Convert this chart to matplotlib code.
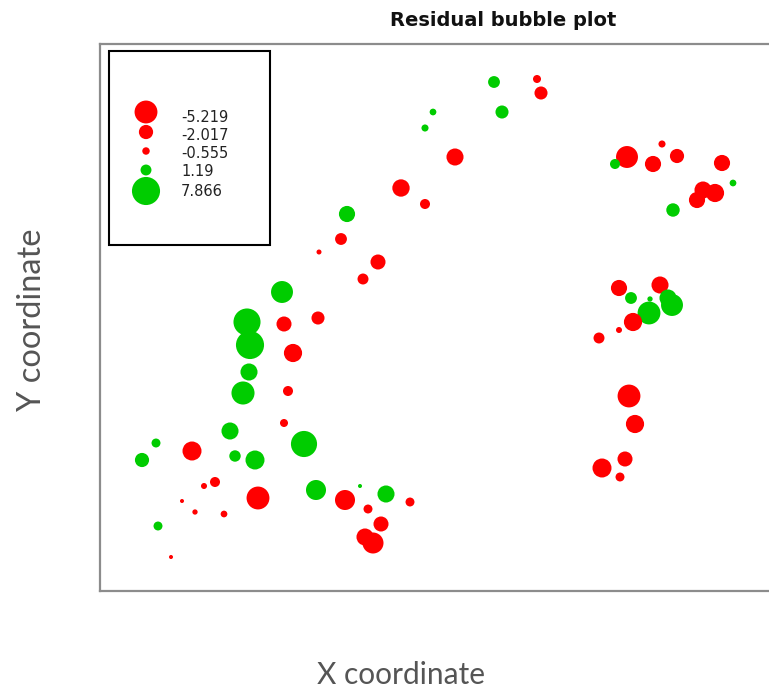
import numpy as np
import matplotlib
matplotlib.use("Agg")
import matplotlib.pyplot as plt
from matplotlib.patches import Rectangle

# bubble locations and residuals
x_coord = [282, 247, 284, 318, 250, 293, 249, 288, 243, 284, 230, 304, 156, 192,
           142, 235, 255, 215, 204, 258, 316, 345, 182, 195, 224, 158, 171, 360,
           386, 410, 368, 381, 365, 373, 494, 537, 541, 502, 433, 425, 455, 401,
           425, 347, 341, 378, 363, 319, 627, 615, 662, 653, 677, 722, 733, 703,
           715, 697, 673, 619, 660, 631, 650, 668, 672, 649, 633, 619, 599, 629,
           635, 625, 602, 620]
y_coord = [401, 371, 369, 375, 348, 340, 321, 302, 300, 270, 262, 249, 250, 242,
           233, 237, 233, 211, 207, 195, 203, 193, 192, 181, 179, 167, 136, 207,
           199, 191, 184, 169, 156, 150, 611, 614, 600, 581, 581, 565, 536, 505,
           489, 479, 454, 431, 414, 441, 536, 529, 549, 529, 537, 530, 510, 503,
           500, 493, 483, 405, 408, 395, 394, 395, 388, 380, 371, 363, 355, 297,
           269, 234, 225, 216]
residual = [4.8, 7.3, -2.25, -1.7, 7.866, -3.3, 2.9, -1.0, 5.3, -0.64, 2.9, 6.8,
            0.8, -3.6, 2.0, 1.3, 3.6, -1.0, -0.36, -5.219, 4.0, -4.0, -0.16,
            -0.28, -0.45, 0.8, -0.16, 0.16, 2.9, -0.8, -0.8, -2.25, -2.9, -4.4,
            1.4, -0.64, -1.7, 1.7, 0.45, 0.5, -2.9, -3.0, -1.0, 2.6, -1.4, -2.25,
            -1.2, -0.25, -4.8, 1.0, -0.5, -2.6, -2.0, -2.6, 0.45, -2.9, -3.3,
            -2.6, 1.8, -2.6, -2.9, 1.4, 0.28, 2.9, 4.8, 5.2, -3.3, -0.36, -1.2,
            -5.2, -3.3, -2.25, -3.6, -0.8]
legend_vals = [-5.219, -2.017, -0.555, 1.19, 7.866]
legend_labels = ["-5.219", "-2.017", "-0.555", "1.19", "7.866"]

RED = "#ff0000"
GREEN = "#00cc00"
SCALE = 52  # marker area (pt^2) per unit of |residual|

res = np.array(residual)
cols = np.where(res < 0, RED, GREEN)

fig = plt.figure(figsize=(7.69, 6.93), dpi=100)
ax = fig.add_axes([100 / 769, 102 / 693, 806 / 769, 547 / 693])
ax.scatter(x_coord, y_coord, s=SCALE * np.abs(res), c=cols, linewidths=0, zorder=3)
ax.set_xlim(100, 906)
ax.set_ylim(102, 649)
ax.set_xticks([])
ax.set_yticks([])
for sp in ax.spines.values():
    sp.set_color("#8c8c8c")
    sp.set_linewidth(1.6)

# legend drawn by hand, in data units
ax.add_patch(Rectangle((109, 448), 161, 194, fill=False, ec="black", lw=1.5, zorder=4))
lv = np.array(legend_vals)
ly = np.array([581, 561, 542, 523, 502])
ax.scatter(np.full(5, 146), ly, s=SCALE * np.abs(lv),
           c=np.where(lv < 0, RED, GREEN), linewidths=0, zorder=5)
text_y = [576, 558, 540, 521, 501]
for yy, lab in zip(text_y, legend_labels):
    ax.text(181, yy, lab, ha="left", va="center",
            fontsize=10.5, family="DejaVu Sans", color="#222222", zorder=5)

fig.text(503 / 769, 1 - 20 / 693, "Residual bubble plot", ha="center", va="center",
         fontsize=14, fontweight="bold", family="DejaVu Sans", color="#111111")
fig.text(401 / 769, 1 - 675 / 693, "X coordinate", ha="center", va="center",
         fontsize=21.5, family="Lato", color="#555555")
fig.text(32 / 769, 1 - 320 / 693, "Y coordinate", ha="center", va="center",
         rotation=90, fontsize=23.5, family="Lato", color="#555555")

fig.savefig("out.png", dpi=100)
